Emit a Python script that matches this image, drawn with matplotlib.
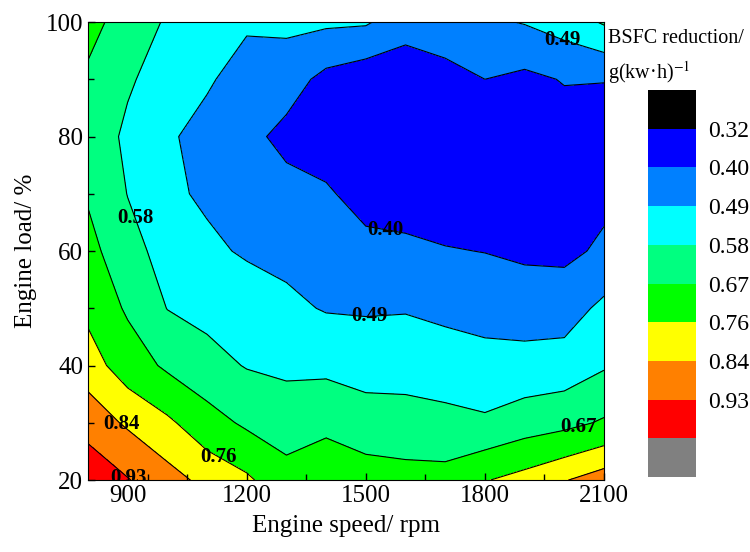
import numpy as np
import matplotlib
matplotlib.use("Agg")
import matplotlib.pyplot as plt

plt.rcParams['font.family'] = ['Liberation Serif', 'DejaVu Serif']
plt.rcParams['mathtext.fontset'] = 'stix'

# engine speed (rpm) / engine load (%) grid
speed = [800, 900, 1000, 1100, 1200, 1300, 1400, 1500, 1600, 1700, 1800, 1900, 2000, 2100]
load = [20, 30, 40, 50, 60, 70, 80, 90, 100]

# BSFC reduction, one row per load step (bottom to top)
bsfc_20 = [1.00, 0.935, 0.87, 0.818, 0.775, 0.70, 0.72, 0.71, 0.70, 0.70, 0.755, 0.79, 0.835, 0.88]
bsfc_30 = [0.89, 0.827, 0.776, 0.706, 0.655, 0.631, 0.652, 0.621, 0.616, 0.606, 0.593, 0.625, 0.645, 0.68]
bsfc_40 = [0.798, 0.717, 0.655, 0.61, 0.575, 0.561, 0.558, 0.543, 0.543, 0.532, 0.52, 0.522, 0.528, 0.571]
bsfc_50 = [0.74, 0.658, 0.578, 0.555, 0.532, 0.508, 0.484, 0.481, 0.484, 0.47, 0.458, 0.447, 0.45, 0.51]
bsfc_60 = [0.70, 0.609, 0.55, 0.505, 0.481, 0.468, 0.447, 0.423, 0.418, 0.405, 0.398, 0.385, 0.38, 0.415]
bsfc_70 = [0.66, 0.578, 0.505, 0.478, 0.454, 0.43, 0.41, 0.37, 0.36, 0.35, 0.35, 0.35, 0.36, 0.38]
bsfc_80 = [0.63, 0.565, 0.50, 0.465, 0.425, 0.375, 0.36, 0.35, 0.34, 0.34, 0.345, 0.35, 0.36, 0.37]
bsfc_90 = [0.655, 0.59, 0.544, 0.499, 0.459, 0.44, 0.375, 0.345, 0.34, 0.365, 0.40, 0.38, 0.405, 0.402]
bsfc_100 = [0.70, 0.63, 0.57, 0.54, 0.50, 0.51, 0.505, 0.50, 0.44, 0.46, 0.475, 0.495, 0.53, 0.59]

# contour levels shown on the colour bar, plus the outer bounds
levels = [0.32, 0.40, 0.49, 0.58, 0.67, 0.76, 0.84, 0.93]
bounds = [0.23] + levels + [1.02, 1.11]
colors = ['#000000', '#0000FF', '#0080FF', '#00FFFF', '#00FF80',
          '#00FF00', '#FFFF00', '#FF8000', '#FF0000', '#808080']

# where the contour labels sit (rpm, load)
label_pos = [(930, 66), (2000, 97.5), (1550, 64.5), (1510, 48.5),
             (880, 29.5), (1130, 24), (2035, 29.5), (900, 20.3)]

Z = np.array([bsfc_20, bsfc_30, bsfc_40, bsfc_50, bsfc_60,
              bsfc_70, bsfc_80, bsfc_90, bsfc_100])
X, Y = np.meshgrid(speed, load)

fig = plt.figure(figsize=(7.5, 5.52), dpi=100)
ax = fig.add_axes([0.1173, 0.1304, 0.688, 0.8297])
cax = fig.add_axes([0.864, 0.1359, 0.064, 0.701])

cf = ax.contourf(X, Y, Z, levels=bounds, colors=colors)
cs = ax.contour(X, Y, Z, levels=levels, colors='black', linewidths=0.8)
labels = ax.clabel(cs, manual=label_pos, inline=False, fmt='%.2f', fontsize=15)
for t in labels:
    t.set_rotation(0)
    t.set_fontweight('bold')
    t.set_clip_on(True)

ax.set_xlim(800, 2100)
ax.set_ylim(20, 100)
ax.set_xticks([900, 1200, 1500, 1800, 2100])
ax.set_xticks([950, 1050, 1350, 1650, 1950], minor=True)
ax.set_yticks([20, 40, 60, 80, 100])
ax.set_yticks([30, 50, 70, 90], minor=True)
ax.tick_params(which='both', direction='in', labelsize=18, top=False, right=False)
ax.tick_params(which='major', length=5, width=1)
ax.tick_params(which='minor', length=4, width=1)
ax.set_xlabel('Engine speed/ rpm', fontsize=18, labelpad=6)
ax.set_ylabel('Engine load/ %', fontsize=18, labelpad=6)

cb = fig.colorbar(cf, cax=cax, ticks=levels)
cb.ax.invert_yaxis()
cb.outline.set_visible(False)
cb.ax.set_yticklabels(['%.2f' % v for v in levels])
cb.ax.tick_params(length=0, labelsize=17, pad=9)

fig.text(0.811, 0.948, 'BSFC reduction/\ng(kw·h)$^{-1}$', fontsize=14.5,
         va='top', ha='left', linespacing=1.6)

fig.savefig('out.png', dpi=100)
